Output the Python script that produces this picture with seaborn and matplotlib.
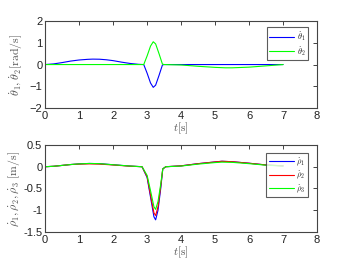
import numpy as np
import pandas as pd
import matplotlib
matplotlib.use("Agg")
import matplotlib.pyplot as plt
import seaborn as sns

# ---- data ----
t_top = [0, 0.25, 0.5, 0.75, 1.0, 1.25, 1.4, 1.6, 1.8, 2.0, 2.25, 2.5, 2.75, 2.9,
         3.0, 3.1, 3.18, 3.25, 3.35, 3.45, 3.5, 4.0, 4.5, 5.0, 5.3, 5.5, 6.0, 6.5, 7.0]
theta1_dot = [0, 0.03, 0.09, 0.16, 0.21, 0.24, 0.25, 0.245, 0.22, 0.18, 0.11, 0.05, 0.01, 0,
              -0.4, -0.85, -1.05, -0.95, -0.5, -0.02, 0, 0, 0, 0, 0, 0, 0, 0, 0]
theta2_dot = [0, 0, 0, 0, 0, 0, 0, 0, 0, 0, 0, 0, 0, 0,
              0.4, 0.85, 1.05, 0.95, 0.5, 0.02, 0, -0.02, -0.08, -0.13, -0.15, -0.15, -0.12, -0.06, 0]

t_bot = [0, 0.25, 0.5, 0.75, 1.0, 1.3, 1.6, 2.0, 2.5, 2.85,
         3.0, 3.1, 3.2, 3.25, 3.32, 3.4, 3.46, 3.55, 4.0, 4.5, 5.0, 5.2, 5.5, 6.0, 6.5, 7.0]
rho1_dot = [0, 0.01, 0.03, 0.05, 0.065, 0.075, 0.07, 0.045, 0.015, 0,
            -0.25, -0.7, -1.15, -1.22, -1.0, -0.5, -0.05, 0, 0.02, 0.07, 0.11, 0.125, 0.115, 0.08, 0.04, 0.02]
rho2_dot = [0, 0.01, 0.03, 0.05, 0.06, 0.065, 0.06, 0.04, 0.012, 0,
            -0.23, -0.65, -1.06, -1.12, -0.92, -0.45, -0.05, 0, 0.02, 0.07, 0.11, 0.125, 0.115, 0.08, 0.04, 0.02]
rho3_dot = [0, 0.01, 0.03, 0.05, 0.065, 0.075, 0.07, 0.045, 0.015, 0,
            -0.2, -0.55, -0.92, -0.98, -0.8, -0.4, -0.05, 0, 0.015, 0.06, 0.095, 0.105, 0.1, 0.07, 0.035, 0.015]

x_ticks = [0, 1, 2, 3, 4, 5, 6, 7, 8]
top_yticks = [-2, -1, 0, 1, 2]
bot_yticks = [-1.5, -1, -0.5, 0, 0.5]
bot_yticklabels = ["-1.5", "-1", "-0.5", "0", "0.5"]

sns.set_style("white")
plt.rcParams['font.family'] = ['Liberation Sans', 'DejaVu Sans']
plt.rcParams['mathtext.fontset'] = 'cm'

W, H = 350, 264
fig = plt.figure(figsize=(3.5, 2.64), dpi=100)
ax1 = fig.add_axes([0.129, 0.591, 0.777, 0.329])
ax2 = fig.add_axes([0.129, 0.121, 0.777, 0.330])

grey = '#555555'

def style(ax):
    for s in ax.spines.values():
        s.set_color('#444444')
        s.set_linewidth(0.8)
    ax.tick_params(direction='in', top=True, right=True, length=3, width=0.6,
                   labelsize=8, colors='#222222', pad=2)
    ax.set_xlim(0, 8)
    ax.set_xticks(x_ticks)

sns.lineplot(x=t_top, y=theta1_dot, ax=ax1, color='#0000ff', lw=0.8, label=r'$\dot{\theta}_1$')
sns.lineplot(x=t_top, y=theta2_dot, ax=ax1, color='#00ff00', lw=0.8, label=r'$\dot{\theta}_2$')
style(ax1)
ax1.set_ylim(-2, 2)
ax1.set_yticks(top_yticks)
ax1.set_ylabel(r'$\dot{\theta}_1,\dot{\theta}_2[\mathrm{rad/s}]$', fontsize=8.5, color=grey, labelpad=3)
ax1.set_xlabel(r'$t[\mathrm{s}]$', fontsize=8, color=grey, labelpad=0)

sns.lineplot(x=t_bot, y=rho1_dot, ax=ax2, color='#0000ff', lw=0.8, label=r'$\dot{\rho}_1$')
sns.lineplot(x=t_bot, y=rho2_dot, ax=ax2, color='#ff0000', lw=0.8, label=r'$\dot{\rho}_2$')
sns.lineplot(x=t_bot, y=rho3_dot, ax=ax2, color='#00ff00', lw=0.8, label=r'$\dot{\rho}_3$')
style(ax2)
ax2.set_ylim(-1.5, 0.5)
ax2.set_yticks(bot_yticks)
ax2.set_yticklabels(bot_yticklabels)
ax2.set_ylabel(r'$\dot{\rho}_1,\dot{\rho}_2,\dot{\rho}_3\ [\mathrm{m/s}]$', fontsize=8.5, color=grey, labelpad=1)
ax2.set_xlabel(r'$t[\mathrm{s}]$', fontsize=8, color=grey, labelpad=0)

for ax, top_px in ((ax1, 27), (ax2, 153)):
    leg = ax.legend(loc='upper right', bbox_to_anchor=(308 / W, 1 - top_px / H),
                    bbox_transform=fig.transFigure, fontsize=6, frameon=True, fancybox=False,
                    borderpad=0.3, handlelength=3, labelspacing=0.15, handletextpad=0.3,
                    borderaxespad=0)
    leg.get_frame().set_edgecolor('#333333')
    leg.get_frame().set_linewidth(0.8)

fig.savefig('out.png', dpi=100)
